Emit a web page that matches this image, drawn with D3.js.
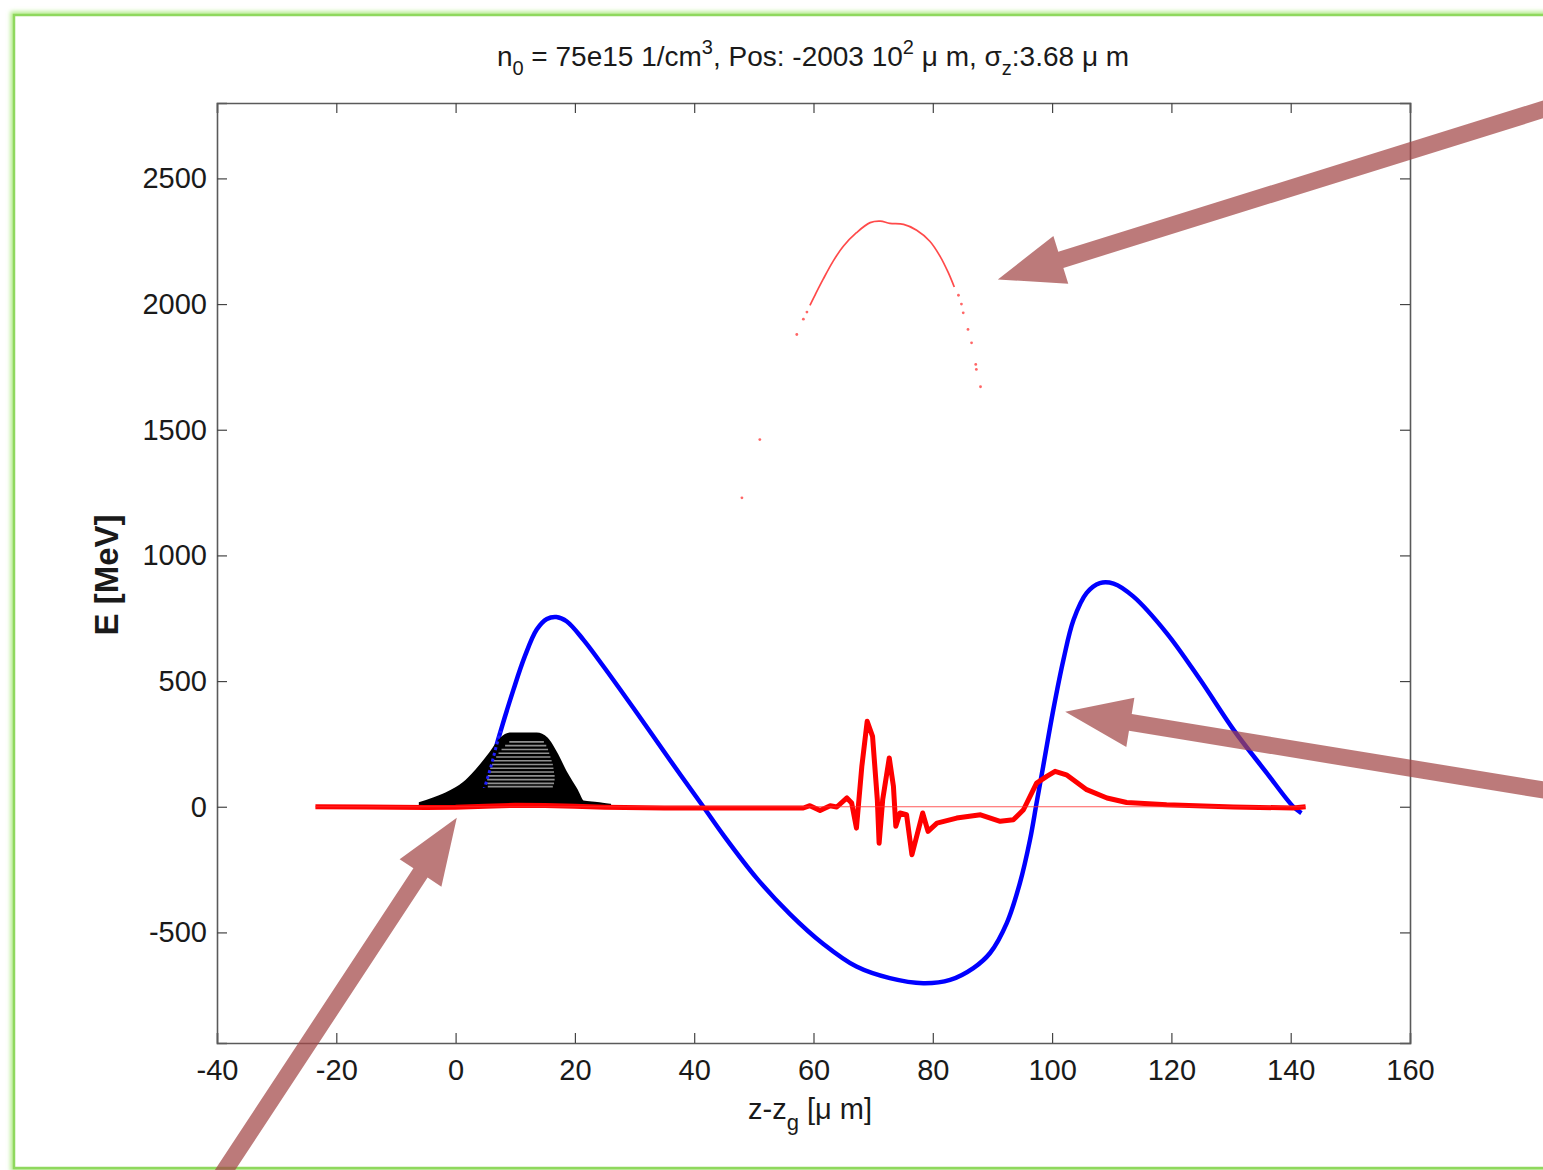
<!DOCTYPE html>
<html>
<head>
<meta charset="utf-8">
<script src="https://cdn.jsdelivr.net/npm/d3@7"></script>
<style>
  body { margin: 0; background: #fff; }
  svg { display: block; }
  text { font-family: "Liberation Sans", Arial, sans-serif; fill: #1a1a1a; }
</style>
</head>
<body>
<div id="chart"></div>
<script>
// field on axis (blue)
var fieldZ = [3.5, 4.6, 5.8, 7.2, 9.7, 11.6, 13.6, 15.3, 16.9, 18.6, 21.4, 24.8, 30.4, 35.9, 41.5, 44.9, 50.5, 56.1, 61.6, 67.2, 72.8, 78.4, 82.9, 86.8, 89.6, 92.4, 94.6, 96.3, 97.4, 98.5, 100.2, 101.9, 103.6, 105.8, 108.0, 110.3, 113.6, 119.2, 124.8, 130.4, 136.0, 140.4, 141.8];
var fieldE = [0, 60, 150, 273, 466, 598, 705, 747, 755, 738, 665, 558, 373, 187, 1, -113, -285, -428, -545, -636, -682, -702, -689, -642, -582, -463, -304, -131, 15, 160, 386, 585, 744, 851, 890, 888, 837, 691, 506, 307, 134, 1, -25];

// energy gain along the beam (thick red)
var gainZ = [-23.5, -15, -5, 0, 5, 10, 15, 20, 25, 35, 45, 56.1, 58.3, 59.4, 61.1, 62.8, 63.9, 65.6, 66.4, 67.2, 68.1, 69.0, 69.9, 70.7, 71.0, 71.6, 72.7, 73.4, 73.8, 74.5, 75.6, 76.5, 78.3, 79.2, 80.7, 84.0, 88.0, 91.3, 93.5, 95.2, 97.4, 99.1, 100.5, 102.4, 105.8, 109.2, 112.5, 119.2, 130.4, 140.4, 142.5];
var gainE = [0, -1, -3, -2, 2, 6, 5, 2, -2, -5, -5, -5, -5, 4, -15, 4, -1, 35, 15, -85, 160, 340, 280, 28, -145, 28, 194, 81, -78, -25, -32, -191, -25, -98, -65, -45, -32, -58, -52, -12, 94, 121, 141, 127, 68, 35, 17, 8, -1, -5, 0];

// accelerated witness particles (red dots)
var arcZ = [59.4, 60.3, 61.6, 63.3, 65.0, 67.2, 69.5, 71.2, 72.8, 75.1, 77.3, 79.5, 81.2, 82.6, 83.6];
var arcE = [1995, 2038, 2098, 2171, 2230, 2284, 2324, 2330, 2321, 2317, 2294, 2250, 2191, 2125, 2068];
var strayZ = [48.0, 51.0, 57.2, 58.3, 58.9, 84.3, 84.8, 85.1, 85.9, 86.5, 87.2, 87.3, 88.0];
var strayE = [1229, 1461, 1879, 1940, 1968, 2035, 2000, 1965, 1899, 1846, 1760, 1740, 1671];

// drive bunch profile (black)
var bunchZ = [-6.0, -2.1, 1.3, 3.5, 5.8, 7.4, 9.1, 13.6, 15.3, 16.9, 18.6, 20.3, 21.4, 23.7, 25.9];
var bunchE = [15, 48, 94, 147, 214, 267, 291, 291, 273, 214, 134, 68, 21, 15, 8];
var stripeE = [258, 243, 228, 213, 198, 183, 168, 153, 138, 123, 108, 93, 80];
var stripeZ0 = [9.0, 8.3, 7.7, 7.2, 6.8, 6.4, 6.1, 5.8, 5.6, 5.4, 5.3, 5.3, 5.4];
var stripeZ1 = [14.8, 15.2, 15.5, 15.7, 15.9, 16.1, 16.3, 16.4, 16.5, 16.6, 16.6, 16.5, 16.3];

var xTicks = [-40, -20, 0, 20, 40, 60, 80, 100, 120, 140, 160];
var yTicks = [-500, 0, 500, 1000, 1500, 2000, 2500];

// annotation arrows: [tipZ, tipE, tailZ, tailE]
var arrows = [
  [90.9, 2098, 185.1, 2795],
  [102.2, 378, 185.1, 56],
  [0.2, -44, -39.2, -1465]
];

var width = 1543, height = 1170;
var pLeft = 217, pRight = 1410, pTop = 103, pBottom = 1043;

var svg = d3.select("#chart").append("svg").attr("width", width).attr("height", height);

var defs = svg.append("defs");
defs.append("clipPath").attr("id", "plotclip").append("rect")
  .attr("x", pLeft).attr("y", pTop).attr("width", pRight - pLeft).attr("height", pBottom - pTop);
var glow = defs.append("filter").attr("id", "glow").attr("x", "-5%").attr("y", "-5%").attr("width", "110%").attr("height", "110%");
glow.append("feGaussianBlur").attr("stdDeviation", 2);

// green slide frame
svg.append("rect").attr("x", 14).attr("y", 15).attr("width", 1600).attr("height", 1153)
  .attr("fill", "none").attr("stroke", "#b6ec8e").attr("stroke-width", 7).attr("filter", "url(#glow)");
svg.append("rect").attr("x", 14).attr("y", 15).attr("width", 1600).attr("height", 1153)
  .attr("fill", "#fff").attr("stroke", "#8fd85e").attr("stroke-width", 2.5);

var xscale = d3.scaleLinear().domain([-40, 160]).range([pLeft, pRight]);
var yscale = d3.scaleLinear().domain([-940, 2800]).range([pBottom, pTop]);

var fmt = function(d) { return String(d); };

// axes box + ticks on all sides
var xb = d3.axisBottom(xscale).tickValues(xTicks).tickSize(-10).tickPadding(14).tickFormat(fmt);
var xt = d3.axisTop(xscale).tickValues(xTicks).tickSize(-10).tickFormat("");
var yl = d3.axisLeft(yscale).tickValues(yTicks).tickSize(-10).tickPadding(10).tickFormat(fmt);
var yr = d3.axisRight(yscale).tickValues(yTicks).tickSize(-10).tickFormat("");

svg.append("g").attr("class", "xAxis").attr("transform", "translate(0," + pBottom + ")").call(xb);
svg.append("g").attr("transform", "translate(0," + pTop + ")").call(xt);
svg.append("g").attr("class", "yAxis").attr("transform", "translate(" + pLeft + ",0)").call(yl);
svg.append("g").attr("transform", "translate(" + pRight + ",0)").call(yr);
svg.selectAll(".domain").attr("stroke", "#5a5a5a").attr("stroke-width", 1.6);
svg.selectAll(".tick line").attr("stroke", "#444").attr("stroke-width", 1.2);
svg.selectAll(".tick text").attr("font-size", 29).style("font-family", "Liberation Sans, Arial, sans-serif").attr("fill", "#1a1a1a");
svg.selectAll(".xAxis .tick text").attr("dy", "0.8em");

var plot = svg.append("g").attr("clip-path", "url(#plotclip)");

var line = d3.line().x(function(d) { return xscale(d[0]); }).y(function(d) { return yscale(d[1]); });

var field = d3.zip(fieldZ, fieldE);
var gain = d3.zip(gainZ, gainE);
var bunch = d3.zip(bunchZ, bunchE);

var smooth = d3.curveCatmullRom.alpha(0.5);

plot.append("path").datum(field).attr("d", line.curve(smooth))
  .attr("fill", "none").attr("stroke", "#0000ff").attr("stroke-width", 4.5).attr("stroke-linejoin", "round");

// bunch: filled black profile with lighter stripes
var area = d3.area().x(function(d) { return xscale(d[0]); }).y0(yscale(0)).y1(function(d) { return yscale(d[1]); }).curve(d3.curveMonotoneX);
plot.append("path").datum(bunch).attr("d", area).attr("fill", "#000").attr("stroke", "#000").attr("stroke-width", 2);

plot.selectAll(".stripe").data(stripeE).enter().append("line")
  .attr("class", "stripe")
  .attr("x1", function(d, i) { return xscale(stripeZ0[i]); })
  .attr("x2", function(d, i) { return xscale(stripeZ1[i]); })
  .attr("y1", function(d) { return yscale(d); })
  .attr("y2", function(d) { return yscale(d); })
  .attr("stroke", "#909090").attr("stroke-width", 1.6);

// blue visible through the stripe gaps
defs.append("clipPath").attr("id", "stripeclip").append("rect")
  .attr("x", xscale(4)).attr("y", yscale(300)).attr("width", xscale(16) - xscale(4)).attr("height", yscale(75) - yscale(300));
svg.append("path").datum(field).attr("d", line.curve(smooth))
  .attr("clip-path", "url(#stripeclip)")
  .attr("fill", "none").attr("stroke", "#2020ff").attr("stroke-width", 3).attr("stroke-dasharray", "3,3");

plot.append("path").datum(gain).attr("d", line.curve(d3.curveLinear))
  .attr("fill", "none").attr("stroke", "#ff0000").attr("stroke-width", 5).attr("stroke-linejoin", "round");

plot.append("line")
  .attr("x1", xscale(gainZ[0])).attr("x2", xscale(gainZ[gainZ.length - 1]))
  .attr("y1", yscale(0)).attr("y2", yscale(0))
  .attr("stroke", "#ff3030").attr("stroke-width", 1.2).attr("opacity", 0.8);

// witness particles
plot.append("path").datum(d3.zip(arcZ, arcE)).attr("d", line.curve(d3.curveCatmullRom))
  .attr("fill", "none").attr("stroke", "#ff2a2a").attr("stroke-width", 1.7).attr("opacity", 0.85);
plot.selectAll(".stray").data(d3.zip(strayZ, strayE)).enter().append("circle")
  .attr("class", "stray")
  .attr("cx", function(d) { return xscale(d[0]); })
  .attr("cy", function(d) { return yscale(d[1]); })
  .attr("r", 1.4).attr("fill", "#ff4040").attr("opacity", 0.8);

// title
var title = svg.append("text").attr("x", 813).attr("y", 66).attr("text-anchor", "middle").attr("font-size", 28);
title.append("tspan").text("n");
title.append("tspan").attr("font-size", 20).attr("dy", 9).text("0");
title.append("tspan").attr("dy", -9).text(" = 75e15 1/cm");
title.append("tspan").attr("font-size", 20).attr("dy", -12).text("3");
title.append("tspan").attr("dy", 12).text(", Pos: -2003 10");
title.append("tspan").attr("font-size", 20).attr("dy", -12).text("2");
title.append("tspan").attr("dy", 12).text(" \u03bc m, \u03c3");
title.append("tspan").attr("font-size", 20).attr("dy", 9).text("z");
title.append("tspan").attr("dy", -9).text(":3.68 \u03bc m");

// axis labels
var xlab = svg.append("text").attr("x", 810).attr("y", 1119).attr("text-anchor", "middle").attr("font-size", 29);
xlab.append("tspan").text("z-z");
xlab.append("tspan").attr("font-size", 22).attr("dy", 11).text("g");
xlab.append("tspan").attr("dy", -11).text(" [\u03bc m]");

svg.append("text").attr("transform", "translate(118,575) rotate(-90)").attr("text-anchor", "middle")
  .attr("font-size", 33).attr("font-weight", "bold").text("E [MeV]");

// annotation arrows
var shaft = 17, headLen = 66, headW = 50;
svg.selectAll(".arrow").data(arrows).enter().append("path")
  .attr("class", "arrow")
  .attr("d", function(a) {
    var tx = xscale(a[0]), ty = yscale(a[1]), sx = xscale(a[2]), sy = yscale(a[3]);
    var dx = sx - tx, dy = sy - ty, len = Math.sqrt(dx * dx + dy * dy);
    var ux = dx / len, uy = dy / len, px = -uy, py = ux;
    var bx = tx + ux * headLen, by = ty + uy * headLen;
    var pts = [
      [tx, ty],
      [bx + px * headW / 2, by + py * headW / 2],
      [bx + px * shaft / 2, by + py * shaft / 2],
      [sx + px * shaft / 2, sy + py * shaft / 2],
      [sx - px * shaft / 2, sy - py * shaft / 2],
      [bx - px * shaft / 2, by - py * shaft / 2],
      [bx - px * headW / 2, by - py * headW / 2]
    ];
    return "M" + pts.map(function(p) { return p[0] + "," + p[1]; }).join("L") + "Z";
  })
  .attr("fill", "#a24646").attr("opacity", 0.72);
</script>
</body>
</html>
